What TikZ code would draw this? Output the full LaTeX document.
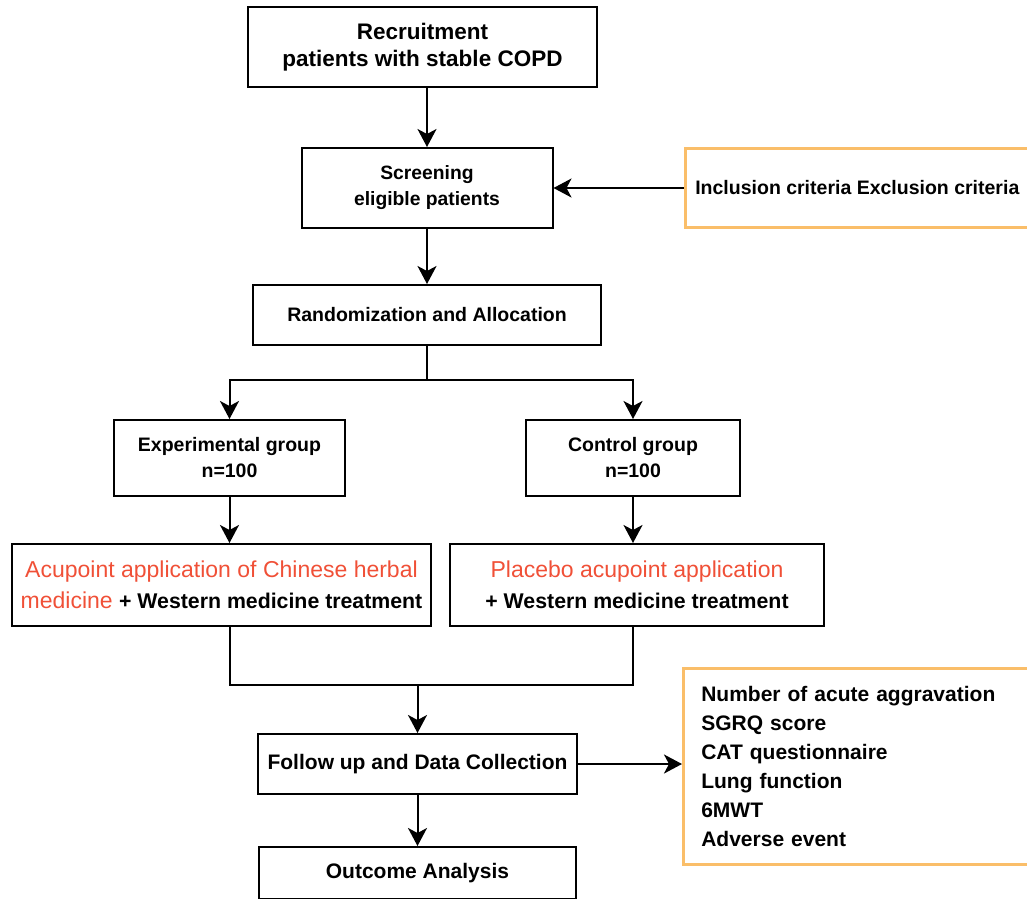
\documentclass[tikz,border=0pt]{standalone}
\usepackage{fontspec}
\setmainfont{Liberation Sans}
\usetikzlibrary{arrows.meta, positioning, calc}

\definecolor{acured}{RGB}{240,80,55}
\definecolor{critorange}{RGB}{250,190,105}

\tikzset{
  flowbox/.style={draw, line width=2pt, align=center, inner sep=0pt},
  critbox/.style={draw=critorange, line width=2.6pt},
  flowline/.style={line width=2pt},
  flowarrow/.style={flowline, -{Stealth[length=18pt,width=19pt,inset=5pt]}},
}
\newcommand{\plusline}{{\bfseries\fontsize{21.3}{31}\selectfont + Western medicine treatment}}

\begin{document}
\begin{tikzpicture}[x=1pt, y=-1pt]
\useasboundingbox (0,0) rectangle (1027,898);

% main column
\node[flowbox, minimum width=349pt, minimum height=80pt, font=\bfseries\fontsize{22.5}{27}\selectfont] (recruit) at (422.5,47) {Recruitment\\patients with stable COPD};
\node[flowbox, minimum width=251pt, minimum height=80pt, font=\bfseries\fontsize{19.3}{26}\selectfont] (screen) at (427,188) {Screening\\eligible patients};
\node[critbox, anchor=west, minimum height=79pt, inner xsep=10pt, font=\bfseries\fontsize{19.5}{22}\selectfont] (incl) at (684,188) {Inclusion criteria Exclusion criteria};
\node[flowbox, minimum width=348pt, minimum height=60pt, font=\bfseries\fontsize{19.5}{22}\selectfont] (rand) at (427,315) {Randomization and Allocation};

% the two arms
\node[flowbox, minimum width=231pt, minimum height=76pt, font=\bfseries\fontsize{19.5}{26}\selectfont] (exp) at (229.5,458) {Experimental group\\n=100};
\node[flowbox, minimum width=214pt, minimum height=76pt, font=\bfseries\fontsize{19.5}{26}\selectfont] (ctrl) at (633,458) {Control group\\n=100};
\node[flowbox, minimum width=419pt, minimum height=82pt, font=\fontsize{23}{31}\selectfont] (acu) at (221.5,585) {\textcolor{acured}{Acupoint application of Chinese herbal}\\\textcolor{acured}{medicine} \plusline};
\node[flowbox, minimum width=374pt, minimum height=82pt, font=\fontsize{23}{31}\selectfont] (plac) at (637,585) {\textcolor{acured}{Placebo acupoint application}\\\plusline};

% follow up
\node[flowbox, minimum width=319pt, minimum height=60pt, font=\bfseries\fontsize{21}{22}\selectfont] (follow) at (417.5,764) {Follow up and Data Collection};
\node[critbox, anchor=north west, text width=324pt, minimum height=196pt, inner xsep=18pt, align=left, font=\bfseries\fontsize{21}{29}\selectfont] (outlist) at (682,667) {Number of acute aggravation\\SGRQ score\\CAT questionnaire\\Lung function\\6MWT\\Adverse event};
\node[flowbox, minimum width=317pt, minimum height=52pt, font=\bfseries\fontsize{21}{22}\selectfont] (analysis) at (417.5,873) {Outcome Analysis};

% connectors
\coordinate (split) at (427,380);
\coordinate (merge) at (417.5,685);
\draw[flowarrow] (screen.north |- recruit.south) -- (screen.north);
\draw[flowarrow] (incl.west) -- (incl.west -| screen.east);
\draw[flowarrow] (screen) -- (rand);
\draw[flowline] (rand) -- (split);
\draw[flowarrow] (split) -| (exp);
\draw[flowarrow] (split) -| (ctrl);
\draw[flowarrow] (exp) -- (exp |- acu.north);
\draw[flowarrow] (ctrl) -- (ctrl |- plac.north);
\draw[flowline] (exp |- acu.south) |- (merge);
\draw[flowline] (ctrl |- plac.south) |- (merge);
\draw[flowarrow] (merge) -- (follow);
\draw[flowarrow] (follow.east) -- (follow.east -| outlist.west);
\draw[flowarrow] (follow) -- (analysis);
\end{tikzpicture}
\end{document}
